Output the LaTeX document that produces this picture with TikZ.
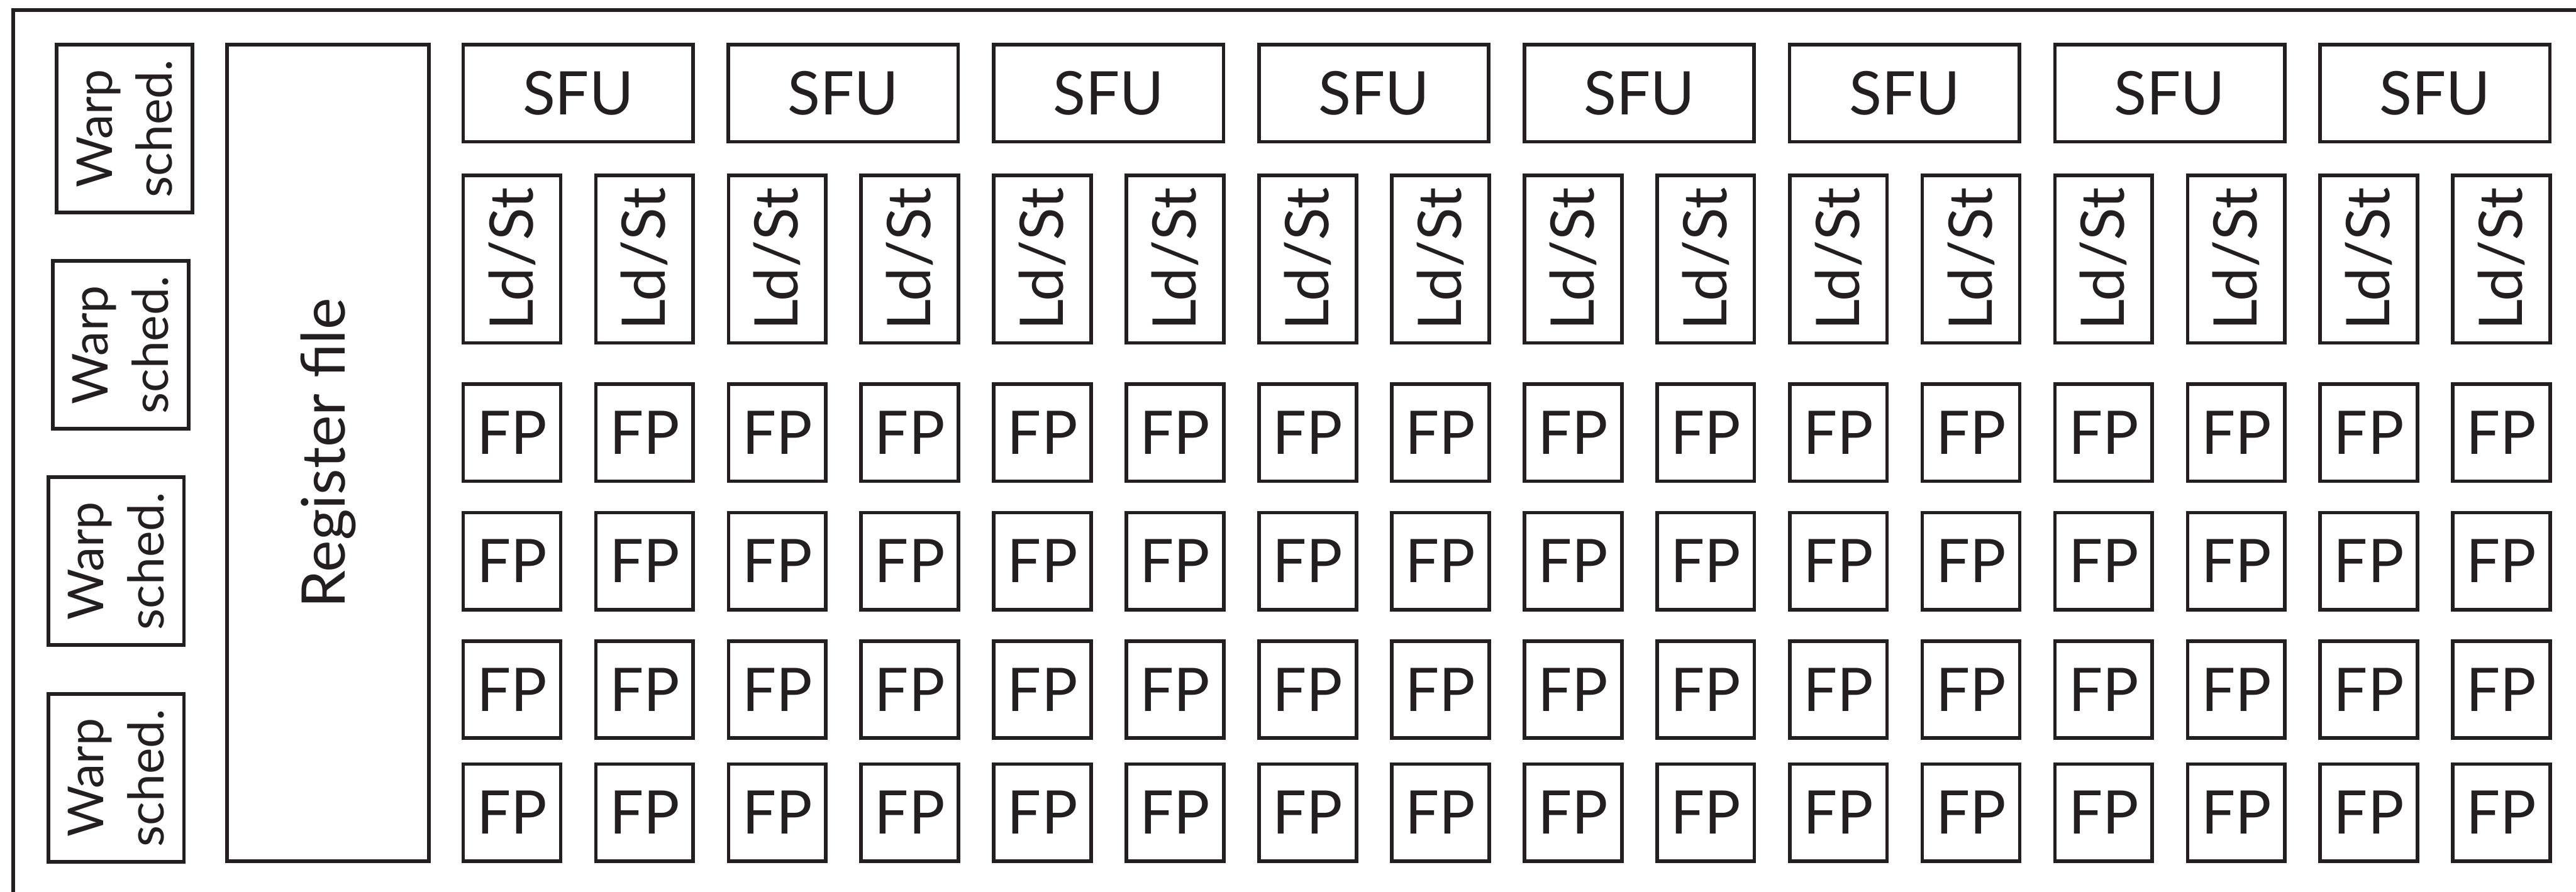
\documentclass[tikz,border=0pt]{standalone}
\usepackage{fontspec}
\setmainfont{Lato}
\usetikzlibrary{positioning}
\definecolor{SMInk}{HTML}{231F20}

\begin{document}
\begin{tikzpicture}[
  x=0.01cm, y=-0.01cm,
  unit/.style={draw=SMInk, text=SMInk, line width=2.7pt, inner sep=0pt, align=center, font=\fontsize{45}{54}\selectfont},
  sfubox/.style={unit, minimum width=6.04cm, minimum height=2.55cm},
  ldstbox/.style={unit, rotate=90, minimum width=4.41cm, minimum height=2.56cm},
  fpbox/.style={unit, minimum width=2.56cm, minimum height=2.55cm},
  regbox/.style={unit, rotate=90, minimum width=21.49cm, minimum height=5.30cm},
  warpbox/.style={unit, rotate=90, minimum width=4.42cm, minimum height=3.57cm, font=\fontsize{37}{45}\selectfont}
]
\clip (0,0) rectangle (6778,2348);
% SM frame, runs off the right and bottom edge
\draw[SMInk, line width=2.7pt] (35,26) rectangle (7000,2600);

% warp schedulers
\node[warpbox] (warp1) at (328,338.5) {Warp\\sched.};
\node[warpbox] (warp2) at (317.5,908) {Warp\\sched.};
\node[warpbox] (warp3) at (305.5,1477) {Warp\\sched.};
\node[warpbox] (warp4) at (305.5,2047.5) {Warp\\sched.};

\node[regbox] (regfile) at (863,1192.5) {Register file};

% function units
\foreach \k in {1,...,8}
  \node[sfubox] (sfu\k) at ({1521+698*(\k-1)},245.5) {SFU};
\foreach \i in {1,...,16}
  \node[ldstbox] (ldst\i) at ({1347+349*(\i-1)},682) {Ld/St};
\foreach \r/\y in {1/1139,2/1477,3/1815,4/2139}
  \foreach \i in {1,...,16}
    \node[fpbox] (fp\r-\i) at ({1347+349*(\i-1)},\y) {FP};
\end{tikzpicture}
\end{document}
